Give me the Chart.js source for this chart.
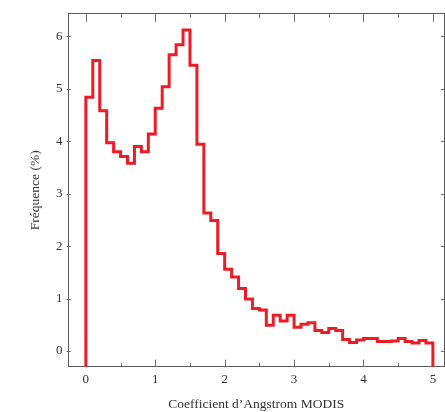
<!DOCTYPE html>
<html>
<head>
<meta charset="utf-8">
<title>Coefficient d'Angstrom MODIS</title>
<style>
  html, body { margin: 0; padding: 0; background: #fff; }
</style>
</head>
<body>
<canvas id="histo" width="445" height="412"></canvas>

<script src="https://cdn.jsdelivr.net/npm/chart.js@4.4.0/dist/chart.umd.min.js"></script>
<script>
// bornes gauches des classes (pas de 0.1)
var debutClasse = [0.0, 0.1, 0.2, 0.3, 0.4, 0.5, 0.6, 0.7, 0.8, 0.9,
                   1.0, 1.1, 1.2, 1.3, 1.4, 1.5, 1.6, 1.7, 1.8, 1.9,
                   2.0, 2.1, 2.2, 2.3, 2.4, 2.5, 2.6, 2.7, 2.8, 2.9,
                   3.0, 3.1, 3.2, 3.3, 3.4, 3.5, 3.6, 3.7, 3.8, 3.9,
                   4.0, 4.1, 4.2, 4.3, 4.4, 4.5, 4.6, 4.7, 4.8, 4.9];
var finDerniereClasse = 5.0;

// frequence (%) de chaque classe
var frequence = [4.84, 5.54, 4.58, 3.97, 3.80, 3.71, 3.58, 3.90, 3.80, 4.14,
                 4.63, 5.04, 5.65, 5.84, 6.12, 5.45, 3.94, 2.63, 2.49, 1.86,
                 1.56, 1.41, 1.19, 0.99, 0.81, 0.78, 0.49, 0.68, 0.57, 0.68,
                 0.45, 0.51, 0.54, 0.39, 0.35, 0.43, 0.39, 0.22, 0.16, 0.21,
                 0.24, 0.24, 0.18, 0.18, 0.19, 0.24, 0.18, 0.15, 0.20, 0.15];

var graduationsX = [0, 1, 2, 3, 4, 5];
var sousGraduationsX = [0.5, 1.5, 2.5, 3.5, 4.5];
var graduationsY = [0, 1, 2, 3, 4, 5, 6];

var rouge = 'rgb(237,28,36)';
var gris = '#5a5a5a';
var police = 'Liberation Serif';

// l'histogramme part du bas du cadre et y retombe a la fin :
// chaque point porte la valeur de la classe qui commence a sa gauche
var points = [{ x: debutClasse[0], y: -1 }];
for (var i = 0; i < debutClasse.length; i++) {
    var fin = i + 1 < debutClasse.length ? debutClasse[i + 1] : finDerniereClasse;
    points.push({ x: debutClasse[i], y: frequence[i] });
    points.push({ x: fin, y: frequence[i] });
}
points.push({ x: finDerniereClasse, y: -1 });

// petits traits de graduation tournes vers l'interieur du cadre
var graduations = {
    id: 'graduations',
    beforeDatasetsDraw: function(chart) {
        var ctx = chart.ctx, a = chart.chartArea;
        var sx = chart.scales.x, sy = chart.scales.y;
        ctx.save();
        ctx.strokeStyle = '#6a6a6a';
        ctx.lineWidth = 1;
        ctx.beginPath();
        graduationsX.forEach(function(v) {
            var px = Math.round(sx.getPixelForValue(v)) + 0.5;
            ctx.moveTo(px, a.bottom); ctx.lineTo(px, a.bottom - 7);
            ctx.moveTo(px, a.top); ctx.lineTo(px, a.top + 8);
        });
        sousGraduationsX.forEach(function(v) {
            var px = Math.round(sx.getPixelForValue(v)) + 0.5;
            ctx.moveTo(px, a.bottom); ctx.lineTo(px, a.bottom - 4);
            ctx.moveTo(px, a.top); ctx.lineTo(px, a.top + 4);
        });
        graduationsY.forEach(function(v) {
            var py = Math.round(sy.getPixelForValue(v)) + 0.5;
            ctx.moveTo(a.left - 2, py); ctx.lineTo(a.left + 2, py);
            ctx.moveTo(a.right, py); ctx.lineTo(a.right - 3, py);
        });
        ctx.stroke();
        ctx.restore();
    }
};

var ctx = document.getElementById('histo').getContext('2d');
var chart = new Chart(ctx, {
    type: 'line',
    data: {
        datasets: [{
            data: points,
            borderColor: rouge,
            borderWidth: 3,
            borderJoinStyle: 'miter',
            pointRadius: 0,
            tension: 0,
            fill: false,
            clip: 0
        }]
    },
    options: {
        responsive: false,
        animation: false,
        devicePixelRatio: 1,
        layout: { padding: 0 },
        plugins: { legend: { display: false }, tooltip: { enabled: false } },
        scales: {
            x: {
                type: 'linear',
                position: 'bottom',
                min: -0.25,
                max: 5.16,
                afterFit: function(s) { s.height = 45.3; },
                afterBuildTicks: function(s) { s.ticks = graduationsX.map(function(v) { return { value: v }; }); },
                grid: { display: false, drawTicks: false },
                border: { display: true, color: gris, width: 1 },
                ticks: { color: '#333', padding: 5, font: { family: police, size: 13 } },
                title: {
                    display: true,
                    text: 'Coefficient d\u2019Angstrom MODIS',
                    color: '#333',
                    padding: { top: 0, bottom: 1 },
                    font: { family: police, size: 13.5, lineHeight: 1 }
                }
            },
            xHaut: {
                type: 'linear',
                position: 'top',
                min: -0.25,
                max: 5.16,
                afterFit: function(s) { s.height = 12.5; },
                grid: { display: false, drawTicks: false },
                border: { display: true, color: gris, width: 1 },
                ticks: { display: false }
            },
            y: {
                type: 'linear',
                position: 'left',
                min: -0.3,
                max: 6.43,
                afterFit: function(s) { s.width = 68.5; },
                afterBuildTicks: function(s) { s.ticks = graduationsY.map(function(v) { return { value: v }; }); },
                grid: { display: false, drawTicks: false },
                border: { display: true, color: gris, width: 1 },
                ticks: { color: '#333', padding: 6, font: { family: police, size: 13 } },
                title: {
                    display: true,
                    text: 'Fréquence (%)',
                    color: '#333',
                    padding: { top: 27, bottom: 0 },
                    font: { family: police, size: 13.5, lineHeight: 1.2 }
                }
            },
            yDroite: {
                type: 'linear',
                position: 'right',
                min: -0.3,
                max: 6.43,
                afterFit: function(s) { s.width = 1; },
                grid: { display: false, drawTicks: false },
                border: { display: true, color: gris, width: 1 },
                ticks: { display: false }
            }
        }
    },
    plugins: [graduations]
});
</script>
</body>
</html>
